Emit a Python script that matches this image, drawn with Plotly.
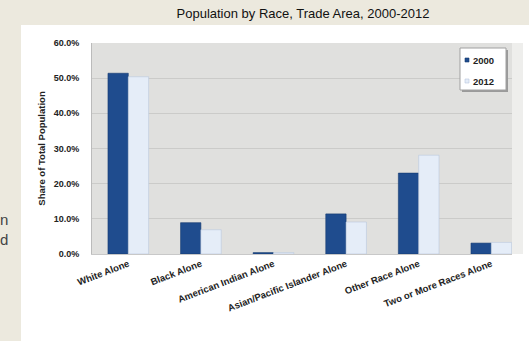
import plotly.graph_objects as go

categories = ["White Alone", "Black Alone", "American Indian Alone",
              "Asian/Pacific Islander Alone", "Other Race Alone",
              "Two or More Races Alone"]
values_2000 = [51.4, 8.9, 0.4, 11.4, 23.0, 3.1]
values_2012 = [50.4, 6.9, 0.4, 9.1, 28.1, 3.3]
series_names = ["2000", "2012"]
series_colors = ["#1F4C8E", "#E5EDF8"]
series_lines = ["#163A70", "#B9C8DD"]
y_ticks = [0, 10, 20, 30, 40, 50, 60]

W, H = 529, 341
L, R, T, B = 92, 17, 43, 87
pw = W - L - R
ph = H - T - B
BEIGE = "#ECE9DE"
FONT = "Liberation Sans, Arial"

def px_x(p):
    return (p - L) / pw

def px_y(p):
    return (H - B - p) / ph

fig = go.Figure()
for name, vals, col, lc in zip(series_names, [values_2000, values_2012],
                               series_colors, series_lines):
    fig.add_trace(go.Bar(
        name=name, x=categories, y=vals, showlegend=False,
        marker=dict(color=col, line=dict(color=lc, width=0.6)),
    ))

def rect(x0, x1, y0, y1, fill, layer="below", line=None):
    return dict(type="rect", xref="paper", yref="paper", layer=layer,
                x0=px_x(x0), x1=px_x(x1), y0=px_y(y1), y1=px_y(y0),
                fillcolor=fill, line=line or dict(width=0))

shapes = [
    # white chart panel, built around the plot area
    rect(21, L, 25, H, "#FFFFFF"),
    rect(21, W, 25, T, "#FFFFFF"),
    rect(21, W, 254, H, "#FFFFFF"),
    rect(512, W, 25, H, "#FFFFFF"),
    # light strip right of plot area
    rect(512, 523, 43, 254, "#EEEEEC"),
    # legend box shadow and box
    rect(462, 508, 50, 92, "#9A9A9A", layer="above"),
    rect(460, 506, 48, 90, "#FFFFFF", layer="above",
         line=dict(color="#A0A0A0", width=1)),
]
legend_y = [60, 81]
annotations = []
for name, col, lc, yy in zip(series_names, series_colors, series_lines, legend_y):
    shapes.append(rect(465, 469, yy - 2, yy + 2, col, layer="above",
                       line=dict(color=lc, width=0.6)))
    annotations.append(dict(text="<b>" + name + "</b>", xref="paper", yref="paper",
                            x=px_x(471), y=px_y(yy), xanchor="left", yanchor="middle",
                            showarrow=False,
                            font=dict(family=FONT, size=9.5, color="#222222")))
fig.update_layout(shapes=shapes)

annotations += [
    dict(text="n", xref="paper", yref="paper", x=px_x(0), y=px_y(219),
         xanchor="left", yanchor="middle", showarrow=False, xshift=-2,
         font=dict(family=FONT, size=15, color="#444444")),
    dict(text="d", xref="paper", yref="paper", x=px_x(0), y=px_y(239),
         xanchor="left", yanchor="middle", showarrow=False, xshift=-2,
         font=dict(family=FONT, size=15, color="#444444")),
]
fig.update_layout(annotations=annotations)

fig.update_layout(
    width=W, height=H,
    margin=dict(l=L, r=R, t=T, b=B, pad=0),
    paper_bgcolor=BEIGE,
    plot_bgcolor="#E0E0DE",
    barmode="group",
    bargap=0.44,
    bargroupgap=0.0,
    title=dict(text="Population by Race, Trade Area, 2000-2012",
               x=303 / W, xanchor="center", xref="container",
               y=1 - 13 / H, yanchor="middle", yref="container",
               font=dict(family=FONT, size=13, color="#111111")),
    font=dict(family=FONT, color="#333333"),
    xaxis=dict(
        range=[-0.5, (512 - L) / 72.6 - 0.5],
        tickangle=-21,
        tickfont=dict(size=9.5, color="#222222", family=FONT, weight="bold"),
        showline=True, linecolor="#C8C8C8", linewidth=1,
        ticks="", showgrid=False,
    ),
    yaxis=dict(
        range=[0, 60],
        tickvals=y_ticks,
        ticktext=[f"{v:.1f}%" for v in y_ticks],
        tickfont=dict(size=9, color="#222222", family=FONT, weight="bold"),
        ticklabelstandoff=10,
        showline=True, linecolor="#BBBBBB", linewidth=1,
        gridcolor="#CBCBC9", gridwidth=1,
        zeroline=False,
        title=dict(text="<b>Share of Total Population</b>",
                   font=dict(size=9.5, color="#222222", family=FONT),
                   standoff=6),
    ),
)

fig.write_html("out.html",
               config={"displayModeBar": False, "staticPlot": True},
               post_script="document.body.style.margin='0';"
                           "document.body.style.background='" + BEIGE + "';")
